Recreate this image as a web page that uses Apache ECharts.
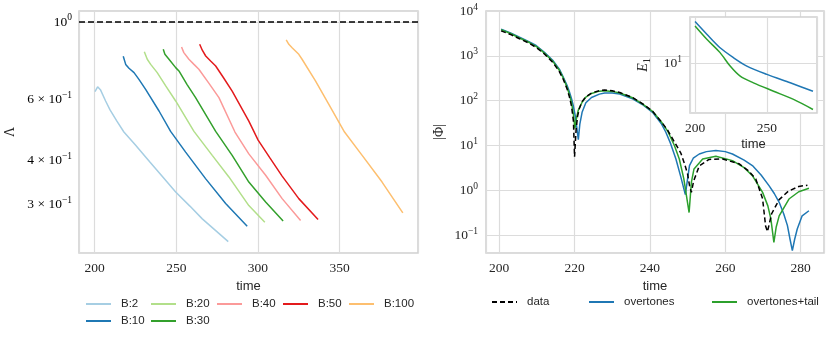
<!DOCTYPE html>
<html>
<head>
<meta charset="utf-8">
<script src="https://cdn.jsdelivr.net/npm/echarts@6/dist/echarts.min.js"></script>
<style>
html, body { margin: 0; background: #fff; }
#chart { width: 831px; height: 339px; }
</style>
</head>
<body>
<div id="chart"></div>
<script>
// ---- left panel: Lambda(t) for each B ----
const bNames = ["B:2", "B:10", "B:20", "B:30", "B:40", "B:50", "B:100"];
const bColors = ["#a6cee3", "#1f78b4", "#b2df8a", "#33a02c", "#fb9a99", "#e31a1c", "#fdbf6f"];

const tB2 = [200.2, 201.8, 203.5, 206.7, 209.4, 213.6, 217.9, 224.7, 233.8, 241.2, 249.6, 258.3, 265.9, 273.6, 281.8];
const lamB2 = [0.632, 0.652, 0.640, 0.594, 0.560, 0.520, 0.484, 0.446, 0.397, 0.362, 0.326, 0.297, 0.273, 0.254, 0.235];
const tB10 = [217.5, 219.0, 221.0, 224.1, 227.1, 231.2, 239.4, 246.5, 255.7, 267.9, 280.2, 293.4];
const lamB10 = [0.798, 0.756, 0.737, 0.716, 0.685, 0.641, 0.556, 0.486, 0.424, 0.356, 0.302, 0.260];
const tB20 = [230.4, 232.2, 234.3, 238.3, 243.5, 249.6, 260.8, 272.0, 282.2, 294.4, 304.2];
const lamB20 = [0.822, 0.782, 0.756, 0.716, 0.656, 0.594, 0.486, 0.415, 0.360, 0.298, 0.267];
const tB30 = [242.0, 243.0, 245.5, 249.6, 251.6, 256.5, 261.8, 274.1, 284.2, 294.4, 304.7, 315.4];
const lamB30 = [0.835, 0.808, 0.782, 0.740, 0.724, 0.663, 0.607, 0.486, 0.415, 0.348, 0.305, 0.269];
const tB40 = [253.2, 254.6, 257.7, 260.8, 263.8, 270.0, 276.1, 285.9, 294.4, 304.7, 314.8, 326.1];
const lamB40 = [0.848, 0.817, 0.782, 0.756, 0.732, 0.667, 0.607, 0.484, 0.419, 0.364, 0.312, 0.270];
const tB50 = [264.3, 265.9, 268.0, 271.0, 274.1, 279.0, 284.2, 294.4, 300.1, 307.3, 314.8, 325.0, 336.8];
const lamB50 = [0.863, 0.830, 0.799, 0.773, 0.748, 0.691, 0.634, 0.520, 0.459, 0.408, 0.362, 0.312, 0.272];
const tB100 = [317.3, 318.9, 320.9, 325.0, 327.0, 335.2, 343.4, 353.0, 363.8, 376.0, 388.7];
const lamB100 = [0.888, 0.863, 0.844, 0.808, 0.782, 0.678, 0.581, 0.484, 0.415, 0.348, 0.284];

const bTimes = [tB2, tB10, tB20, tB30, tB40, tB50, tB100];
const bLams = [lamB2, lamB10, lamB20, lamB30, lamB40, lamB50, lamB100];
const lamRef = 1;
const lamTicks = [1, 0.6, 0.4, 0.3];
const lamTickText = ["{b|10}{s|0}", "{b|6 × 10}{s|−1}", "{b|4 × 10}{s|−1}", "{b|3 × 10}{s|−1}"];

// ---- right panel: |Phi|(t) ----
const tData = [200.5, 203, 205.4, 208, 210, 212, 214.2, 216, 217, 218, 218.6, 219.2, 219.7, 220, 220.4, 220.8, 221.3, 222, 223, 224.5, 226.6, 228, 230, 232, 235.4, 238, 240.7, 243, 244.7, 246.5, 248.2, 249.2, 250.0, 250.5, 251, 251.6, 253.1, 255.7, 259.3, 263.7, 266, 268.1, 269.9, 270.7, 271.2, 272.3, 274.3, 276.7, 279.5, 281.8];
const phiData = [3600, 3000, 2400, 1900, 1500, 1100, 720, 440, 300, 185, 125, 75, 35, 5.6, 22, 45, 68, 95, 122, 148, 168, 172, 166, 152, 118, 86, 58, 34, 22, 12, 6.8, 3.9, 2.3, 1.3, 0.9, 1.6, 3.5, 4.9, 5.0, 3.9, 2.8, 1.8, 0.65, 0.16, 0.12, 0.3, 0.62, 0.95, 1.22, 1.3];
const tOver = [200.5, 203, 205.4, 208, 209.8, 212, 214.2, 216, 216.9, 218, 218.6, 219.2, 219.7, 220.2, 220.6, 221, 221.4, 222, 223, 224.5, 226.6, 228, 230, 232, 235.4, 238, 240.7, 243, 244.2, 245.5, 246.9, 248.2, 249.4, 250.5, 251.5, 253.1, 255, 257.5, 260, 261.9, 265, 267.2, 269.5, 271.6, 273, 274.3, 275.5, 276.5, 277.2, 277.8, 278.4, 279.1, 280.4, 282.2];
const phiOver = [3950, 3250, 2600, 2050, 1700, 1200, 800, 500, 350, 220, 160, 110, 75, 45, 25, 13.5, 30, 55, 90, 118, 140, 148, 148, 140, 110, 82, 55, 31, 20, 11, 5.0, 2.0, 0.8, 3.56, 5.2, 6.46, 7.3, 7.7, 7.3, 6.46, 4.7, 3.56, 2.2, 1.27, 0.85, 0.54, 0.3, 0.163, 0.08, 0.045, 0.08, 0.137, 0.27, 0.35];
const tTail = [200.5, 203, 205.4, 208, 210, 212, 214.2, 216, 217, 218, 218.6, 219.2, 219.7, 220.1, 220.5, 221, 222, 223, 224.5, 226.6, 228, 230, 232, 235.4, 238, 240.7, 243, 244.7, 246.5, 247.8, 249, 250.4, 251, 251.7, 254, 257.5, 261.9, 265, 267.2, 269.9, 271.3, 272.1, 272.9, 273.5, 274.3, 276.9, 279.5, 282.2];
const phiTail = [3850, 3150, 2500, 1980, 1580, 1150, 760, 470, 320, 200, 140, 90, 50, 24, 40, 62, 92, 120, 145, 163, 166, 161, 148, 116, 85, 58, 34, 21, 10, 5.0, 1.8, 0.32, 1.5, 3.0, 5.0, 5.74, 4.6, 3.2, 2.13, 0.9, 0.45, 0.23, 0.069, 0.15, 0.27, 0.64, 0.93, 1.11];

// ---- inset: E_1(t) ----
const tInsetOver = [200, 208.2, 217.4, 226.7, 236.0, 250, 266.2, 282];
const e1Over = [26.1, 19.5, 14.3, 11.4, 9.4, 7.76, 6.4, 5.28];
const tInsetTail = [200, 208.2, 217.4, 224.4, 231.4, 240.6, 254.6, 268.5, 282];
const e1Tail = [23.6, 17.4, 12.8, 9.4, 7.46, 6.4, 5.28, 4.37, 3.47];

const pairs = (xs, ys) => xs.map((x, i) => [x, ys[i]]);

const serif = "Liberation Serif";
const sans = "Liberation Sans";
const ink = "#262626";
const gridColor = "#dcdcdc";
const tickRich = {
  b: { fontFamily: serif, fontSize: 13.5, color: ink, lineHeight: 18 },
  s: { fontFamily: serif, fontSize: 9.5, color: ink, verticalAlign: "top", lineHeight: 11 },
};
function powLabel(v) {
  const e = Math.log10(v);
  const r = Math.round(e);
  if (Math.abs(e - r) > 1e-6) return "";
  return "{b|10}{s|" + (r < 0 ? "−" + (-r) : r) + "}";
}
function everyLabel(step) {
  return (v) => (Math.abs(v / step - Math.round(v / step)) < 1e-6 ? String(Math.round(v)) : "");
}

function xAxisOf(gridIndex, min, max, step, extra) {
  return Object.assign({
    type: "value", gridIndex, min, max,
    axisLine: { show: false }, axisTick: { show: false },
    axisLabel: { formatter: everyLabel(step), fontFamily: serif, fontSize: 13.5, color: ink, margin: 8 },
    splitLine: { show: true, lineStyle: { color: gridColor, width: 1.2 } },
    name: "time", nameLocation: "middle", nameGap: 25,
    nameTextStyle: { fontFamily: sans, fontSize: 13, color: ink },
  }, extra || {});
}

const chart = echarts.init(document.getElementById("chart"));

const series = [];
bNames.forEach((name, i) => {
  series.push({
    name, type: "line", xAxisIndex: 0, yAxisIndex: 0,
    data: pairs(bTimes[i], bLams[i]),
    symbol: "none",
    lineStyle: { color: bColors[i], width: 1.5 }, itemStyle: { color: bColors[i] },
    markLine: i === 0 ? {
      silent: true, symbol: ["none", "none"], label: { show: false },
      lineStyle: { color: "#000", type: [6, 3], width: 1.5 },
      data: [{ yAxis: lamRef }],
    } : undefined,
  });
});
series.push(
  { name: "data", type: "line", xAxisIndex: 1, yAxisIndex: 1, data: pairs(tData, phiData), symbol: "none", z: 4,
    lineStyle: { color: "#000", width: 1.5, type: [5, 3] }, itemStyle: { color: "#000" } },
  { name: "overtones", type: "line", xAxisIndex: 1, yAxisIndex: 1, data: pairs(tOver, phiOver), symbol: "none", z: 2,
    lineStyle: { color: "#1f77b4", width: 1.5 }, itemStyle: { color: "#1f77b4" } },
  { name: "overtones+tail", type: "line", xAxisIndex: 1, yAxisIndex: 1, data: pairs(tTail, phiTail), symbol: "none", z: 3,
    lineStyle: { color: "#2ca02c", width: 1.5 }, itemStyle: { color: "#2ca02c" } },
  { name: "inset overtones", type: "line", xAxisIndex: 2, yAxisIndex: 2, data: pairs(tInsetOver, e1Over), symbol: "none", smooth: 0.3, z: 22,
    lineStyle: { color: "#1f77b4", width: 1.5 } },
  { name: "inset tail", type: "line", xAxisIndex: 2, yAxisIndex: 2, data: pairs(tInsetTail, e1Tail), symbol: "none", smooth: 0.3, z: 22,
    lineStyle: { color: "#2ca02c", width: 1.5 } }
);

function legendCol(names, left, top) {
  return {
    data: names, left, top, orient: "vertical", padding: 0,
    itemWidth: 25, itemHeight: 12, itemGap: 5,
    itemStyle: { opacity: 0 },
    textStyle: { fontFamily: sans, fontSize: 11.5, color: ink, padding: [0, 0, 0, 5] },
  };
}

const option = {
  animation: false,
  backgroundColor: "#fff",
  grid: [
    { left: 79, top: 11, width: 339, height: 242, show: true, borderColor: "#d0d0d0", borderWidth: 1.5, outerBoundsMode: "none" },
    { left: 486, top: 11, width: 338, height: 242, show: true, borderColor: "#d0d0d0", borderWidth: 1.5, outerBoundsMode: "none" },
    { left: 690, top: 17, width: 127, height: 96, show: true, backgroundColor: "#fff", borderColor: "#d0d0d0", borderWidth: 1.5, z: 20, outerBoundsMode: "none" },
  ],
  xAxis: [
    xAxisOf(0, 190.4, 398, 50),
    xAxisOf(1, 196.5, 286.2, 20),
    xAxisOf(2, 196.5, 284.8, 50, { splitNumber: 2, z: 21 }),
  ],
  yAxis: [
    { type: "log", gridIndex: 0, min: 0.218, max: 1.075,
      axisLine: { show: false }, axisTick: { show: false }, axisLabel: { show: false },
      splitLine: { show: true, lineStyle: { color: gridColor, width: 1.2 } },
      name: "Λ", nameLocation: "middle", nameRotate: 90, nameGap: 62,
      nameTextStyle: { fontFamily: serif, fontSize: 14, color: ink } },
    { type: "log", gridIndex: 1, min: 0.04, max: 10000,
      axisLine: { show: false }, axisTick: { show: false },
      axisLabel: { formatter: powLabel, rich: tickRich, margin: 8 },
      splitLine: { show: true, lineStyle: { color: gridColor, width: 1.2 } },
      name: "|Φ|", nameLocation: "middle", nameRotate: 90, nameGap: 40,
      nameTextStyle: { fontFamily: serif, fontSize: 14, color: ink } },
    { type: "log", gridIndex: 2, min: 3.2, max: 29, z: 21,
      axisLine: { show: false }, axisTick: { show: false },
      axisLabel: { formatter: powLabel, rich: tickRich, margin: 8 },
      splitLine: { show: true, lineStyle: { color: gridColor, width: 1.2 } },
      name: "{i|E}{u|1}", nameLocation: "middle", nameRotate: 90, nameGap: 38,
      nameTextStyle: { rich: {
        i: { fontFamily: serif, fontStyle: "italic", fontSize: 14, color: ink, lineHeight: 18 },
        u: { fontFamily: serif, fontSize: 9.5, color: ink, verticalAlign: "bottom", lineHeight: 18 } } } },
  ],
  legend: [
    legendCol(["B:2", "B:10"], 85, 298),
    legendCol(["B:20", "B:30"], 150, 298),
    legendCol(["B:40"], 216, 298),
    legendCol(["B:50"], 282, 298),
    legendCol(["B:100"], 348, 298),
    legendCol(["data"], 491, 296),
    legendCol(["overtones"], 588, 296),
    legendCol(["overtones+tail"], 711, 296),
  ],
  series,
};
chart.setOption(option);

// left panel tick labels sit on minor log values, placed through the axis scale
const lamLabels = lamTicks.map((v, i) => {
  const p = chart.convertToPixel({ gridIndex: 0 }, [190.4, v]);
  return {
    type: "text", x: p[0] - 7, y: p[1], z: 30,
    style: { text: lamTickText[i], rich: tickRich, align: "right", verticalAlign: "middle" },
  };
});
chart.setOption({ graphic: lamLabels });
</script>
</body>
</html>
